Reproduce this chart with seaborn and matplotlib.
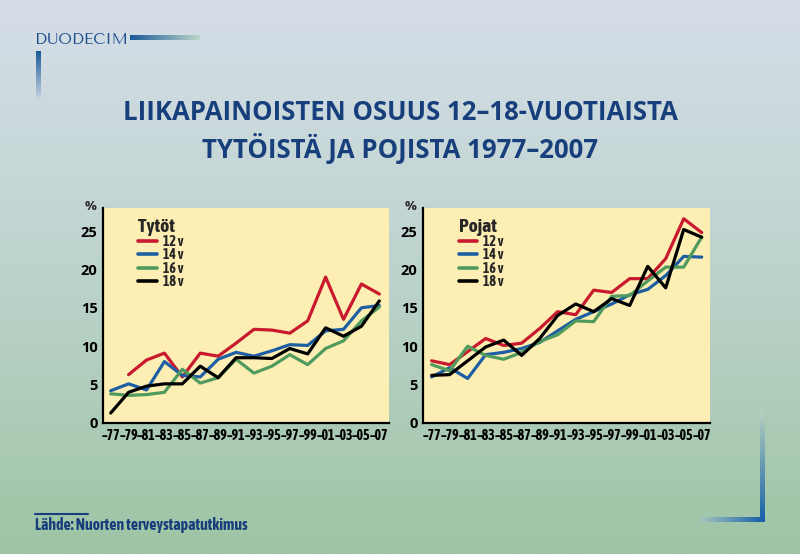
import numpy as np
import pandas as pd
import matplotlib
matplotlib.use("Agg")
import matplotlib.pyplot as plt
from matplotlib import font_manager as fm
from matplotlib.colors import LinearSegmentedColormap, to_rgb
import seaborn as sns

# ---------------- data ----------------
years = ["–77", "–79", "–81", "–83", "–85", "–87", "–89", "–91",
         "–93", "–95", "–97", "–99", "–01", "–03", "–05", "–07"]
ages = ["12 v", "14 v", "16 v", "18 v"]

girls_12 = [np.nan, 6.3, 8.2, 9.1, 6.0, 9.1, 8.7, 10.4, 12.2, 12.1, 11.7, 13.3, 19.0, 13.5, 18.1, 16.8]
girls_14 = [4.2, 5.1, 4.3, 8.0, 6.2, 6.0, 8.3, 9.2, 8.7, 9.4, 10.2, 10.1, 12.0, 12.2, 15.0, 15.3]
girls_16 = [3.8, 3.6, 3.7, 4.0, 7.0, 5.2, 5.9, 8.3, 6.5, 7.4, 8.9, 7.6, 9.7, 10.7, 13.3, 15.1]
girls_18 = [1.3, 4.0, 4.8, 5.1, 5.1, 7.4, 5.9, 8.5, 8.5, 8.4, 9.7, 9.0, 12.4, 11.3, 12.6, 15.9]

boys_12 = [8.1, 7.6, 9.3, 11.0, 10.1, 10.4, 12.3, 14.5, 14.1, 17.3, 17.0, 18.8, 18.8, 21.4, 26.6, 24.8]
boys_14 = [6.0, 7.2, 5.8, 8.9, 9.2, 9.7, 10.5, 12.0, 13.5, 14.5, 15.5, 16.7, 17.4, 19.2, 21.7, 21.6]
boys_16 = [7.6, 6.8, 10.0, 8.8, 8.3, 9.2, 10.6, 11.5, 13.3, 13.2, 16.5, 16.6, 18.5, 20.3, 20.3, 24.2]
boys_18 = [6.2, 6.3, 8.1, 9.9, 10.8, 8.8, 11.0, 14.0, 15.5, 14.5, 16.2, 15.3, 20.4, 17.6, 25.2, 24.2]

yticks = [0, 5, 10, 15, 20, 25]

title_lines = ["LIIKAPAINOISTEN OSUUS 12–18-VUOTIAISTA", "TYTÖISTÄ JA POJISTA 1977–2007"]
panel_titles = ["Tytöt", "Pojat"]
source = "Lähde: Nuorten terveystapatutkimus"
brand = "DUODECIM"

# ---------------- fonts ----------------
fonts = fm.fontManager.ttflist
def has_bold(name):
    return any(f.name == name and str(f.weight) in ("700", "bold") for f in fonts)
def pick_bold(*names):
    for n in names:
        if has_bold(n):
            return n
    return "DejaVu Sans"
avail = {f.name for f in fonts}
def pick(*names):
    for n in names:
        if n in avail:
            return n
    return "DejaVu Sans"

narrow = pick_bold("Asap Condensed", "Liberation Sans Narrow", "PT Sans Narrow",
                   "Roboto Condensed", "Archivo Narrow", "Open Sans")
myriad = pick_bold("Open Sans", "Lato", "Liberation Sans")
optima = pick("Tenor Sans", "Marcellus", "Lato")

sns.set_theme(style="white")
plt.rcParams['font.family'] = [narrow, 'DejaVu Sans']

palette = {"12 v": "#c8192e", "14 v": "#1e5fa3", "16 v": "#4f9a5c", "18 v": "#000000"}
navy = "#173f7c"

def long_df(series):
    rows = []
    for age, vals in zip(ages, series):
        for i, (yr, v) in enumerate(zip(years, vals)):
            rows.append({"pos": i, "year": yr, "age": age, "value": v})
    return pd.DataFrame(rows)

dfs = [long_df([girls_12, girls_14, girls_16, girls_18]),
       long_df([boys_12, boys_14, boys_16, boys_18])]

W, H = 800.0, 554.0
fig = plt.figure(figsize=(8, 5.54), dpi=100)

# background gradient
bg = fig.add_axes([0, 0, 1, 1], zorder=-10)
cmap = LinearSegmentedColormap.from_list("bg", ["#d6dee9", "#bcd3cc", "#9ec4a4"])
grad = np.linspace(0, 1, 256).reshape(-1, 1)
bg.imshow(grad, aspect="auto", cmap=cmap, extent=[0, 1, 0, 1], origin="upper")

def gradbar(x0, x1, y0, y1, c0, c1, horizontal=True):
    n = 64
    c0, c1 = np.array(to_rgb(c0)), np.array(to_rgb(c1))
    t = np.linspace(0, 1, n)
    cols = c0[None, :] * (1 - t[:, None]) + c1[None, :] * t[:, None]
    arr = cols[None, :, :] if horizontal else cols[:, None, :]
    bg.imshow(arr, aspect="auto", extent=[x0 / W, x1 / W, 1 - y1 / H, 1 - y0 / H],
              origin="upper", interpolation="bilinear")

gradbar(130, 200, 36, 40.5, "#1a5a9a", "#bcd6c6", True)
gradbar(36, 41, 51, 100, "#1a5a9a", "#c8d6e0", False)
gradbar(759.5, 764, 412, 522, "#b4cfc0", "#1660a8", False)
gradbar(700, 764, 517.5, 522, "#a6c6bc", "#1660a8", True)
bg.set_xlim(0, 1); bg.set_ylim(0, 1)
bg.axis("off")

bg.text(35 / W, 1 - 40 / H, brand, color="#1f4f8f", fontsize=11.3,
        family=[optima, "DejaVu Sans"], va="center", ha="left")
bg.plot([35 / W, 88 / W], [1 - 514 / H, 1 - 514 / H], color=navy, lw=1.5)
bg.text(35 / W, 1 - 525 / H, source, color=navy, fontsize=11.3, fontweight="bold",
        family=[narrow, "DejaVu Sans"], va="center", ha="left")

fig.text(0.5, 1 - 112 / H, title_lines[0], ha="center", va="center", color=navy,
         fontsize=18.5, fontweight="bold", family=[myriad, "DejaVu Sans"])
fig.text(0.5, 1 - 149 / H, title_lines[1], ha="center", va="center", color=navy,
         fontsize=18.5, fontweight="bold", family=[myriad, "DejaVu Sans"])

positions = [[103 / W, 1 - 423 / H, 286 / W, 215 / H], [423 / W, 1 - 423 / H, 287 / W, 215 / H]]
xlims = [(-0.43, 15.54), (-0.48, 15.46)]

for k in range(2):
    ax = fig.add_axes(positions[k])
    sns.lineplot(data=dfs[k], x="pos", y="value", hue="age", palette=palette,
                 hue_order=ages, lw=2.3, ax=ax, legend=True)
    ax.set_facecolor("#fdeeb4")
    ax.set_xlim(*xlims[k])
    ax.set_ylim(0, 28)
    ax.set_xticks(range(len(years)))
    ax.set_xticklabels(years)
    ax.set_yticks(yticks)
    ax.set_yticklabels([str(t) for t in yticks])
    ax.set_xlabel(""); ax.set_ylabel("")
    for s in ["top", "right"]:
        ax.spines[s].set_visible(False)
    for s in ["left", "bottom"]:
        ax.spines[s].set_color("black")
        ax.spines[s].set_linewidth(1.6)
    ax.tick_params(axis="both", direction="in", length=6, width=1.4, color="black")
    ax.tick_params(axis="x", pad=4, labelsize=10)
    ax.tick_params(axis="y", pad=4, labelsize=10.5)
    for lab in ax.get_xticklabels():
        lab.set_fontweight("bold")
        lab.set_color("black")
    for lab in ax.get_yticklabels():
        lab.set_fontweight("bold")
        lab.set_color("black")
        lab.set_family([myriad, "DejaVu Sans"])
    ax.text(-0.045, 1.0 + 2 / 215, "%", transform=ax.transAxes, fontsize=9.5, fontweight="bold",
            family=[myriad, "DejaVu Sans"], ha="center", va="center")
    leg = ax.legend(title=panel_titles[k], loc="upper left", bbox_to_anchor=(0.09, 1.0),
                    frameon=False, handlelength=1.35, handletextpad=0.4,
                    labelspacing=-0.05, borderaxespad=0.3,
                    prop={"weight": "bold", "size": 10, "family": [narrow, "DejaVu Sans"]})
    leg.get_title().set_fontsize(14)
    leg.get_title().set_fontweight("bold")
    leg.get_title().set_family([narrow, "DejaVu Sans"])
    leg._legend_box.align = "left"
    for line in leg.get_lines():
        line.set_linewidth(2.6)

fig.savefig("out.png", dpi=100)
